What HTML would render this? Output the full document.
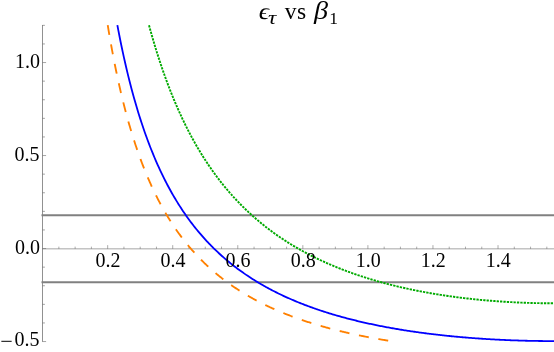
<!DOCTYPE html>
<html><head><meta charset="utf-8"><title>plot</title>
<style>html,body{margin:0;padding:0;background:#fff;}body{width:554px;height:352px;overflow:hidden;font-family:"Liberation Serif",serif;}</style>
</head><body>
<svg width="554" height="352" viewBox="0 0 554 352" style="display:block">
<rect width="554" height="352" fill="#fff"/>
<g stroke="#666" fill="none">
<line x1="42.5" y1="25.00" x2="42.5" y2="341.80" stroke-width="0.72"/>
<line x1="42.5" y1="248.85" x2="554" y2="248.85" stroke-width="0.6"/>
<line x1="58.87" y1="248.85" x2="58.87" y2="246.65" stroke-width="0.55"/>
<line x1="75.13" y1="248.85" x2="75.13" y2="246.65" stroke-width="0.55"/>
<line x1="91.4" y1="248.85" x2="91.4" y2="246.65" stroke-width="0.55"/>
<line x1="107.66" y1="248.85" x2="107.66" y2="245.15" stroke-width="0.55"/>
<line x1="123.93" y1="248.85" x2="123.93" y2="246.65" stroke-width="0.55"/>
<line x1="140.19" y1="248.85" x2="140.19" y2="246.65" stroke-width="0.55"/>
<line x1="156.46" y1="248.85" x2="156.46" y2="246.65" stroke-width="0.55"/>
<line x1="172.72" y1="248.85" x2="172.72" y2="245.15" stroke-width="0.55"/>
<line x1="188.99" y1="248.85" x2="188.99" y2="246.65" stroke-width="0.55"/>
<line x1="205.25" y1="248.85" x2="205.25" y2="246.65" stroke-width="0.55"/>
<line x1="221.52" y1="248.85" x2="221.52" y2="246.65" stroke-width="0.55"/>
<line x1="237.78" y1="248.85" x2="237.78" y2="245.15" stroke-width="0.55"/>
<line x1="254.05" y1="248.85" x2="254.05" y2="246.65" stroke-width="0.55"/>
<line x1="270.31" y1="248.85" x2="270.31" y2="246.65" stroke-width="0.55"/>
<line x1="286.58" y1="248.85" x2="286.58" y2="246.65" stroke-width="0.55"/>
<line x1="302.84" y1="248.85" x2="302.84" y2="245.15" stroke-width="0.55"/>
<line x1="319.11" y1="248.85" x2="319.11" y2="246.65" stroke-width="0.55"/>
<line x1="335.37" y1="248.85" x2="335.37" y2="246.65" stroke-width="0.55"/>
<line x1="351.64" y1="248.85" x2="351.64" y2="246.65" stroke-width="0.55"/>
<line x1="367.9" y1="248.85" x2="367.9" y2="245.15" stroke-width="0.55"/>
<line x1="384.17" y1="248.85" x2="384.17" y2="246.65" stroke-width="0.55"/>
<line x1="400.43" y1="248.85" x2="400.43" y2="246.65" stroke-width="0.55"/>
<line x1="416.7" y1="248.85" x2="416.7" y2="246.65" stroke-width="0.55"/>
<line x1="432.96" y1="248.85" x2="432.96" y2="245.15" stroke-width="0.55"/>
<line x1="449.23" y1="248.85" x2="449.23" y2="246.65" stroke-width="0.55"/>
<line x1="465.49" y1="248.85" x2="465.49" y2="246.65" stroke-width="0.55"/>
<line x1="481.76" y1="248.85" x2="481.76" y2="246.65" stroke-width="0.55"/>
<line x1="498.02" y1="248.85" x2="498.02" y2="245.15" stroke-width="0.55"/>
<line x1="514.29" y1="248.85" x2="514.29" y2="246.65" stroke-width="0.55"/>
<line x1="530.55" y1="248.85" x2="530.55" y2="246.65" stroke-width="0.55"/>
<line x1="546.82" y1="248.85" x2="546.82" y2="246.65" stroke-width="0.55"/>
<line x1="42.5" y1="341.55" x2="46.10" y2="341.55" stroke-width="0.6"/>
<line x1="42.5" y1="322.95" x2="44.90" y2="322.95" stroke-width="0.6"/>
<line x1="42.5" y1="304.35" x2="44.90" y2="304.35" stroke-width="0.6"/>
<line x1="42.5" y1="285.75" x2="44.90" y2="285.75" stroke-width="0.6"/>
<line x1="42.5" y1="267.15" x2="44.90" y2="267.15" stroke-width="0.6"/>
<line x1="42.5" y1="248.55" x2="46.10" y2="248.55" stroke-width="0.6"/>
<line x1="42.5" y1="229.95" x2="44.90" y2="229.95" stroke-width="0.6"/>
<line x1="42.5" y1="211.35" x2="44.90" y2="211.35" stroke-width="0.6"/>
<line x1="42.5" y1="192.75" x2="44.90" y2="192.75" stroke-width="0.6"/>
<line x1="42.5" y1="174.15" x2="44.90" y2="174.15" stroke-width="0.6"/>
<line x1="42.5" y1="155.55" x2="46.10" y2="155.55" stroke-width="0.6"/>
<line x1="42.5" y1="136.95" x2="44.90" y2="136.95" stroke-width="0.6"/>
<line x1="42.5" y1="118.35" x2="44.90" y2="118.35" stroke-width="0.6"/>
<line x1="42.5" y1="99.75" x2="44.90" y2="99.75" stroke-width="0.6"/>
<line x1="42.5" y1="81.15" x2="44.90" y2="81.15" stroke-width="0.6"/>
<line x1="42.5" y1="62.55" x2="46.10" y2="62.55" stroke-width="0.6"/>
<line x1="42.5" y1="43.95" x2="44.90" y2="43.95" stroke-width="0.6"/>
<line x1="42.5" y1="25.35" x2="44.90" y2="25.35" stroke-width="0.6"/>
</g>
<g stroke="#808080" stroke-width="1.9">
<line x1="41.5" y1="215.2" x2="554" y2="215.2"/>
<line x1="41.5" y1="282.2" x2="554" y2="282.2"/>
</g>
<path d="M107.74 25.20 L108.46 29.54 L109.17 33.78 L109.88 37.93 L110.59 42.00 L111.31 45.98 L112.02 49.88 L112.73 53.70 L113.44 57.44 L114.16 61.11 L114.87 64.70 L115.58 68.23 L116.30 71.69 L117.01 75.08 L117.72 78.41 L118.43 81.67 L119.15 84.87 L119.86 88.02 L120.57 91.10 L121.28 94.13 L122.00 97.11 L122.71 100.03 L123.42 102.90 L124.14 105.72 L124.85 108.49 L125.56 111.21 L126.27 113.89 L126.99 116.52 L127.70 119.10 L128.41 121.65 L129.12 124.15 L129.84 126.61 L130.55 129.03 L131.26 131.41 L131.98 133.75 L132.69 136.06 L133.40 138.33 L134.11 140.56 L134.83 142.76 L135.54 144.92 L136.25 147.05 L136.96 149.15 L137.68 151.22 L138.39 153.25 L139.10 155.26 L139.82 157.23 L140.53 159.18 L141.24 161.10 L141.95 162.99 L142.67 164.85 L143.38 166.68 L144.09 168.49 L144.80 170.28 L145.52 172.04 L146.23 173.77 L146.94 175.48 L147.66 177.17 L148.37 178.84 L149.08 180.48 L149.79 182.10 L150.51 183.69 L151.22 185.27 L151.93 186.83 L152.64 188.36 L153.36 189.88 L154.07 191.37 L154.78 192.85 L155.49 194.31 L156.21 195.74 L156.92 197.16 L157.63 198.57 L158.35 199.95 L159.06 201.32 L159.77 202.67 L160.48 204.00 L161.20 205.32 L161.91 206.62 L162.62 207.91 L163.33 209.18 L164.05 210.43 L164.76 211.67 L165.47 212.90 L166.19 214.11 L166.90 215.30 L167.61 216.49 L168.32 217.66 L169.04 218.81 L169.75 219.95 L170.46 221.08 L171.17 222.20 L171.89 223.30 L172.60 224.39 L173.31 225.47 L174.03 226.54 L174.74 227.59 L175.45 228.64 L176.16 229.67 L176.88 230.69 L177.59 231.70 L178.30 232.70 L179.01 233.69 L179.73 234.66 L180.44 235.63 L181.15 236.59 L181.87 237.53 L182.58 238.47 L183.29 239.40 L184.00 240.32 L184.72 241.22 L185.43 242.12 L186.14 243.01 L186.85 243.89 L187.57 244.76 L188.28 245.62 L188.99 246.48 L189.71 247.32 L190.42 248.16 L191.13 248.99 L191.84 249.81 L192.56 250.62 L193.27 251.42 L193.98 252.22 L194.69 253.01 L195.41 253.79 L196.12 254.56 L196.83 255.33 L197.55 256.08 L198.26 256.84 L198.97 257.58 L199.68 258.32 L200.40 259.05 L201.11 259.77 L201.82 260.49 L202.53 261.20 L203.25 261.90 L203.96 262.59 L204.67 263.29 L205.39 263.97 L206.10 264.65 L206.81 265.32 L207.52 265.98 L208.24 266.64 L208.95 267.30 L209.66 267.94 L210.37 268.58 L211.09 269.22 L211.80 269.85 L212.51 270.48 L213.23 271.09 L213.94 271.71 L214.65 272.32 L215.36 272.92 L216.08 273.52 L216.79 274.11 L217.50 274.70 L218.21 275.28 L218.93 275.86 L219.64 276.43 L220.35 277.00 L221.07 277.56 L221.78 278.12 L222.49 278.67 L223.20 279.22 L223.92 279.77 L224.63 280.31 L225.34 280.84 L226.05 281.37 L226.77 281.90 L227.48 282.42 L228.19 282.94 L228.91 283.45 L229.62 283.96 L230.33 284.47 L231.04 284.97 L231.76 285.46 L232.47 285.96 L233.18 286.45 L233.89 286.93 L234.61 287.41 L235.32 287.89 L236.03 288.36 L236.75 288.83 L237.46 289.30 L238.17 289.76 L238.88 290.22 L239.60 290.68 L240.31 291.13 L241.02 291.58 L241.73 292.02 L242.45 292.46 L243.16 292.90 L243.87 293.34 L244.59 293.77 L245.30 294.20 L246.01 294.62 L246.72 295.04 L247.44 295.46 L248.15 295.88 L248.86 296.29 L249.57 296.70 L250.29 297.10 L251.00 297.51 L251.71 297.91 L252.43 298.30 L253.14 298.70 L253.85 299.09 L254.56 299.48 L255.28 299.86 L255.99 300.24 L256.70 300.62 L257.41 301.00 L258.13 301.37 L258.84 301.74 L259.55 302.11 L260.26 302.48 L260.98 302.84 L261.69 303.20 L262.40 303.56 L263.12 303.92 L263.83 304.27 L264.54 304.62 L265.25 304.97 L265.97 305.31 L266.68 305.66 L267.39 306.00 L268.10 306.34 L268.82 306.67 L269.53 307.00 L270.24 307.34 L270.96 307.66 L271.67 307.99 L272.38 308.32 L273.09 308.64 L273.81 308.96 L274.52 309.27 L275.23 309.59 L275.94 309.90 L276.66 310.21 L277.37 310.52 L278.08 310.83 L278.80 311.13 L279.51 311.44 L280.22 311.74 L280.93 312.04 L281.65 312.33 L282.36 312.63 L283.07 312.92 L283.78 313.21 L284.50 313.50 L285.21 313.78 L285.92 314.07 L286.64 314.35 L287.35 314.63 L288.06 314.91 L288.77 315.19 L289.49 315.46 L290.20 315.74 L290.91 316.01 L291.62 316.28 L292.34 316.54 L293.05 316.81 L293.76 317.08 L294.48 317.34 L295.19 317.60 L295.90 317.86 L296.61 318.12 L297.33 318.37 L298.04 318.63 L298.75 318.88 L299.46 319.13 L300.18 319.38 L300.89 319.62 L301.60 319.87 L302.32 320.12 L303.03 320.36 L303.74 320.60 L304.45 320.84 L305.17 321.08 L305.88 321.31 L306.59 321.55 L307.30 321.78 L308.02 322.01 L308.73 322.24 L309.44 322.47 L310.16 322.70 L310.87 322.93 L311.58 323.15 L312.29 323.37 L313.01 323.60 L313.72 323.82 L314.43 324.04 L315.14 324.25 L315.86 324.47 L316.57 324.68 L317.28 324.90 L318.00 325.11 L318.71 325.32 L319.42 325.53 L320.13 325.74 L320.85 325.95 L321.56 326.15 L322.27 326.36 L322.98 326.56 L323.70 326.76 L324.41 326.96 L325.12 327.16 L325.84 327.36 L326.55 327.55 L327.26 327.75 L327.97 327.94 L328.69 328.14 L329.40 328.33 L330.11 328.52 L330.82 328.71 L331.54 328.90 L332.25 329.08 L332.96 329.27 L333.68 329.45 L334.39 329.64 L335.10 329.82 L335.81 330.00 L336.53 330.18 L337.24 330.36 L337.95 330.54 L338.66 330.72 L339.38 330.89 L340.09 331.07 L340.80 331.24 L341.52 331.41 L342.23 331.58 L342.94 331.75 L343.65 331.92 L344.37 332.09 L345.08 332.26 L345.79 332.43 L346.50 332.59 L347.22 332.76 L347.93 332.92 L348.64 333.08 L349.36 333.24 L350.07 333.40 L350.78 333.56 L351.49 333.72 L352.21 333.88 L352.92 334.03 L353.63 334.19 L354.34 334.34 L355.06 334.50 L355.77 334.65 L356.48 334.80 L357.20 334.95 L357.91 335.10 L358.62 335.25 L359.33 335.40 L360.05 335.54 L360.76 335.69 L361.47 335.83 L362.18 335.98 L362.90 336.12 L363.61 336.26 L364.32 336.41 L365.03 336.55 L365.75 336.69 L366.46 336.83 L367.17 336.96 L367.89 337.10 L368.60 337.24 L369.31 337.37 L370.02 337.51 L370.74 337.64 L371.45 337.77 L372.16 337.91 L372.87 338.04 L373.59 338.17 L374.30 338.30 L375.01 338.43 L375.73 338.55 L376.44 338.68 L377.15 338.81 L377.86 338.93 L378.58 339.06 L379.29 339.18 L380.00 339.31 L380.71 339.43 L381.43 339.55 L382.14 339.67 L382.85 339.79 L383.57 339.91 L384.28 340.03 L384.99 340.15 L385.70 340.27 L386.42 340.38 L387.13 340.50 L387.84 340.61 L388.55 340.73 L389.27 340.84 L389.98 340.96 L390.69 341.07 L391.41 341.18 L392.12 341.29 L392.83 341.40" fill="none" stroke="#ff8000" stroke-width="1.85" stroke-dasharray="10 9.74" stroke-dashoffset="0.2"/>
<path d="M149.01 25.20 L150.02 28.91 L151.03 32.55 L152.05 36.12 L153.06 39.63 L154.07 43.07 L155.08 46.45 L156.10 49.76 L157.11 53.02 L158.12 56.22 L159.14 59.36 L160.15 62.45 L161.16 65.48 L162.18 68.46 L163.19 71.39 L164.20 74.27 L165.21 77.10 L166.23 79.88 L167.24 82.62 L168.25 85.31 L169.27 87.96 L170.28 90.56 L171.29 93.13 L172.30 95.65 L173.32 98.13 L174.33 100.57 L175.34 102.97 L176.36 105.34 L177.37 107.67 L178.38 109.97 L179.39 112.22 L180.41 114.45 L181.42 116.64 L182.43 118.80 L183.45 120.93 L184.46 123.02 L185.47 125.09 L186.49 127.12 L187.50 129.13 L188.51 131.10 L189.52 133.05 L190.54 134.97 L191.55 136.86 L192.56 138.73 L193.58 140.57 L194.59 142.39 L195.60 144.18 L196.61 145.94 L197.63 147.68 L198.64 149.40 L199.65 151.10 L200.67 152.77 L201.68 154.42 L202.69 156.05 L203.71 157.65 L204.72 159.24 L205.73 160.80 L206.74 162.35 L207.76 163.87 L208.77 165.38 L209.78 166.87 L210.80 168.33 L211.81 169.78 L212.82 171.21 L213.83 172.63 L214.85 174.02 L215.86 175.40 L216.87 176.76 L217.89 178.10 L218.90 179.43 L219.91 180.74 L220.93 182.04 L221.94 183.32 L222.95 184.59 L223.96 185.84 L224.98 187.07 L225.99 188.29 L227.00 189.50 L228.02 190.69 L229.03 191.87 L230.04 193.04 L231.05 194.19 L232.07 195.33 L233.08 196.45 L234.09 197.57 L235.11 198.67 L236.12 199.75 L237.13 200.83 L238.14 201.89 L239.16 202.94 L240.17 203.98 L241.18 205.01 L242.20 206.03 L243.21 207.04 L244.22 208.03 L245.24 209.02 L246.25 209.99 L247.26 210.95 L248.27 211.91 L249.29 212.85 L250.30 213.78 L251.31 214.70 L252.33 215.62 L253.34 216.52 L254.35 217.41 L255.36 218.30 L256.38 219.17 L257.39 220.04 L258.40 220.90 L259.42 221.75 L260.43 222.59 L261.44 223.42 L262.46 224.24 L263.47 225.05 L264.48 225.86 L265.49 226.66 L266.51 227.45 L267.52 228.23 L268.53 229.00 L269.55 229.77 L270.56 230.53 L271.57 231.28 L272.58 232.02 L273.60 232.76 L274.61 233.49 L275.62 234.21 L276.64 234.92 L277.65 235.63 L278.66 236.33 L279.68 237.02 L280.69 237.71 L281.70 238.39 L282.71 239.07 L283.73 239.73 L284.74 240.40 L285.75 241.05 L286.77 241.70 L287.78 242.34 L288.79 242.98 L289.80 243.61 L290.82 244.23 L291.83 244.85 L292.84 245.46 L293.86 246.07 L294.87 246.67 L295.88 247.27 L296.89 247.86 L297.91 248.44 L298.92 249.02 L299.93 249.60 L300.95 250.16 L301.96 250.73 L302.97 251.29 L303.99 251.84 L305.00 252.39 L306.01 252.93 L307.02 253.47 L308.04 254.00 L309.05 254.53 L310.06 255.05 L311.08 255.57 L312.09 256.08 L313.10 256.59 L314.11 257.10 L315.13 257.60 L316.14 258.09 L317.15 258.58 L318.17 259.07 L319.18 259.55 L320.19 260.03 L321.21 260.50 L322.22 260.97 L323.23 261.44 L324.24 261.90 L325.26 262.36 L326.27 262.81 L327.28 263.26 L328.30 263.70 L329.31 264.15 L330.32 264.58 L331.33 265.02 L332.35 265.45 L333.36 265.87 L334.37 266.29 L335.39 266.71 L336.40 267.13 L337.41 267.54 L338.43 267.94 L339.44 268.35 L340.45 268.75 L341.46 269.14 L342.48 269.54 L343.49 269.93 L344.50 270.31 L345.52 270.70 L346.53 271.08 L347.54 271.45 L348.55 271.82 L349.57 272.19 L350.58 272.56 L351.59 272.92 L352.61 273.28 L353.62 273.64 L354.63 273.99 L355.65 274.35 L356.66 274.69 L357.67 275.04 L358.68 275.38 L359.70 275.72 L360.71 276.05 L361.72 276.39 L362.74 276.72 L363.75 277.04 L364.76 277.37 L365.77 277.69 L366.79 278.01 L367.80 278.32 L368.81 278.63 L369.83 278.94 L370.84 279.25 L371.85 279.56 L372.86 279.86 L373.88 280.16 L374.89 280.45 L375.90 280.75 L376.92 281.04 L377.93 281.33 L378.94 281.61 L379.96 281.90 L380.97 282.18 L381.98 282.46 L382.99 282.73 L384.01 283.01 L385.02 283.28 L386.03 283.55 L387.05 283.81 L388.06 284.08 L389.07 284.34 L390.08 284.60 L391.10 284.85 L392.11 285.11 L393.12 285.36 L394.14 285.61 L395.15 285.86 L396.16 286.10 L397.18 286.35 L398.19 286.59 L399.20 286.83 L400.21 287.06 L401.23 287.30 L402.24 287.53 L403.25 287.76 L404.27 287.99 L405.28 288.22 L406.29 288.44 L407.30 288.66 L408.32 288.88 L409.33 289.10 L410.34 289.31 L411.36 289.53 L412.37 289.74 L413.38 289.95 L414.40 290.15 L415.41 290.36 L416.42 290.56 L417.43 290.76 L418.45 290.96 L419.46 291.16 L420.47 291.36 L421.49 291.55 L422.50 291.74 L423.51 291.93 L424.52 292.12 L425.54 292.31 L426.55 292.49 L427.56 292.67 L428.58 292.85 L429.59 293.03 L430.60 293.21 L431.61 293.39 L432.63 293.56 L433.64 293.73 L434.65 293.90 L435.67 294.07 L436.68 294.23 L437.69 294.40 L438.71 294.56 L439.72 294.72 L440.73 294.88 L441.74 295.04 L442.76 295.19 L443.77 295.35 L444.78 295.50 L445.80 295.65 L446.81 295.80 L447.82 295.95 L448.83 296.09 L449.85 296.24 L450.86 296.38 L451.87 296.52 L452.89 296.66 L453.90 296.80 L454.91 296.94 L455.93 297.07 L456.94 297.20 L457.95 297.33 L458.96 297.46 L459.98 297.59 L460.99 297.72 L462.00 297.84 L463.02 297.97 L464.03 298.09 L465.04 298.21 L466.05 298.33 L467.07 298.45 L468.08 298.56 L469.09 298.68 L470.11 298.79 L471.12 298.90 L472.13 299.01 L473.15 299.12 L474.16 299.22 L475.17 299.33 L476.18 299.43 L477.20 299.54 L478.21 299.64 L479.22 299.74 L480.24 299.83 L481.25 299.93 L482.26 300.03 L483.27 300.12 L484.29 300.21 L485.30 300.30 L486.31 300.39 L487.33 300.48 L488.34 300.57 L489.35 300.65 L490.36 300.73 L491.38 300.82 L492.39 300.90 L493.40 300.98 L494.42 301.06 L495.43 301.13 L496.44 301.21 L497.46 301.28 L498.47 301.35 L499.48 301.43 L500.49 301.50 L501.51 301.56 L502.52 301.63 L503.53 301.70 L504.55 301.76 L505.56 301.82 L506.57 301.89 L507.58 301.95 L508.60 302.00 L509.61 302.06 L510.62 302.12 L511.64 302.17 L512.65 302.23 L513.66 302.28 L514.68 302.33 L515.69 302.38 L516.70 302.43 L517.71 302.48 L518.73 302.52 L519.74 302.57 L520.75 302.61 L521.77 302.65 L522.78 302.69 L523.79 302.73 L524.80 302.77 L525.82 302.81 L526.83 302.84 L527.84 302.87 L528.86 302.91 L529.87 302.94 L530.88 302.97 L531.90 303.00 L532.91 303.03 L533.92 303.05 L534.93 303.08 L535.95 303.10 L536.96 303.12 L537.97 303.14 L538.99 303.16 L540.00 303.18 L541.01 303.20 L542.02 303.22 L543.04 303.23 L544.05 303.24 L545.06 303.26 L546.08 303.27 L547.09 303.28 L548.10 303.28 L549.11 303.29 L550.13 303.30 L551.14 303.30 L552.15 303.30 L553.17 303.31 L554.18 303.31" fill="none" stroke="#00aa00" stroke-width="1.9" stroke-dasharray="2.3 1.08"/>
<path d="M117.36 25.20 L118.45 30.95 L119.55 36.54 L120.64 41.98 L121.73 47.26 L122.82 52.39 L123.91 57.39 L125.01 62.26 L126.10 67.00 L127.19 71.61 L128.28 76.11 L129.37 80.49 L130.47 84.76 L131.56 88.93 L132.65 93.00 L133.74 96.96 L134.83 100.84 L135.93 104.62 L137.02 108.31 L138.11 111.92 L139.20 115.44 L140.29 118.89 L141.39 122.26 L142.48 125.55 L143.57 128.77 L144.66 131.93 L145.75 135.01 L146.85 138.03 L147.94 140.98 L149.03 143.88 L150.12 146.71 L151.21 149.49 L152.31 152.21 L153.40 154.88 L154.49 157.49 L155.58 160.05 L156.67 162.56 L157.77 165.02 L158.86 167.44 L159.95 169.81 L161.04 172.14 L162.13 174.42 L163.23 176.66 L164.32 178.86 L165.41 181.02 L166.50 183.14 L167.60 185.22 L168.69 187.26 L169.78 189.27 L170.87 191.25 L171.96 193.19 L173.06 195.09 L174.15 196.97 L175.24 198.81 L176.33 200.62 L177.42 202.40 L178.52 204.16 L179.61 205.88 L180.70 207.57 L181.79 209.24 L182.88 210.88 L183.98 212.50 L185.07 214.09 L186.16 215.65 L187.25 217.19 L188.34 218.71 L189.44 220.20 L190.53 221.67 L191.62 223.11 L192.71 224.54 L193.80 225.94 L194.90 227.33 L195.99 228.69 L197.08 230.03 L198.17 231.35 L199.26 232.66 L200.36 233.94 L201.45 235.21 L202.54 236.46 L203.63 237.69 L204.72 238.90 L205.82 240.10 L206.91 241.28 L208.00 242.44 L209.09 243.59 L210.18 244.72 L211.28 245.83 L212.37 246.93 L213.46 248.02 L214.55 249.09 L215.65 250.15 L216.74 251.19 L217.83 252.22 L218.92 253.24 L220.01 254.24 L221.11 255.23 L222.20 256.21 L223.29 257.17 L224.38 258.12 L225.47 259.06 L226.57 259.99 L227.66 260.91 L228.75 261.81 L229.84 262.71 L230.93 263.59 L232.03 264.46 L233.12 265.32 L234.21 266.17 L235.30 267.01 L236.39 267.84 L237.49 268.66 L238.58 269.47 L239.67 270.27 L240.76 271.06 L241.85 271.84 L242.95 272.61 L244.04 273.38 L245.13 274.13 L246.22 274.87 L247.31 275.61 L248.41 276.34 L249.50 277.06 L250.59 277.77 L251.68 278.47 L252.77 279.17 L253.87 279.86 L254.96 280.54 L256.05 281.21 L257.14 281.87 L258.23 282.53 L259.33 283.18 L260.42 283.82 L261.51 284.46 L262.60 285.08 L263.70 285.71 L264.79 286.32 L265.88 286.93 L266.97 287.53 L268.06 288.12 L269.16 288.71 L270.25 289.29 L271.34 289.87 L272.43 290.44 L273.52 291.00 L274.62 291.56 L275.71 292.11 L276.80 292.66 L277.89 293.20 L278.98 293.73 L280.08 294.26 L281.17 294.79 L282.26 295.30 L283.35 295.82 L284.44 296.32 L285.54 296.83 L286.63 297.32 L287.72 297.81 L288.81 298.30 L289.90 298.78 L291.00 299.26 L292.09 299.73 L293.18 300.20 L294.27 300.66 L295.36 301.12 L296.46 301.57 L297.55 302.02 L298.64 302.46 L299.73 302.90 L300.82 303.34 L301.92 303.77 L303.01 304.20 L304.10 304.62 L305.19 305.04 L306.29 305.45 L307.38 305.86 L308.47 306.27 L309.56 306.67 L310.65 307.07 L311.75 307.46 L312.84 307.85 L313.93 308.24 L315.02 308.62 L316.11 309.00 L317.21 309.38 L318.30 309.75 L319.39 310.12 L320.48 310.48 L321.57 310.84 L322.67 311.20 L323.76 311.56 L324.85 311.91 L325.94 312.26 L327.03 312.60 L328.13 312.94 L329.22 313.28 L330.31 313.61 L331.40 313.94 L332.49 314.27 L333.59 314.60 L334.68 314.92 L335.77 315.24 L336.86 315.55 L337.95 315.87 L339.05 316.18 L340.14 316.48 L341.23 316.79 L342.32 317.09 L343.41 317.39 L344.51 317.68 L345.60 317.97 L346.69 318.26 L347.78 318.55 L348.87 318.84 L349.97 319.12 L351.06 319.40 L352.15 319.67 L353.24 319.95 L354.34 320.22 L355.43 320.49 L356.52 320.75 L357.61 321.02 L358.70 321.28 L359.80 321.54 L360.89 321.79 L361.98 322.05 L363.07 322.30 L364.16 322.55 L365.26 322.79 L366.35 323.04 L367.44 323.28 L368.53 323.52 L369.62 323.76 L370.72 323.99 L371.81 324.23 L372.90 324.46 L373.99 324.69 L375.08 324.91 L376.18 325.14 L377.27 325.36 L378.36 325.58 L379.45 325.80 L380.54 326.01 L381.64 326.23 L382.73 326.44 L383.82 326.65 L384.91 326.86 L386.00 327.06 L387.10 327.27 L388.19 327.47 L389.28 327.67 L390.37 327.86 L391.46 328.06 L392.56 328.25 L393.65 328.45 L394.74 328.64 L395.83 328.83 L396.92 329.01 L398.02 329.20 L399.11 329.38 L400.20 329.56 L401.29 329.74 L402.39 329.92 L403.48 330.09 L404.57 330.27 L405.66 330.44 L406.75 330.61 L407.85 330.78 L408.94 330.94 L410.03 331.11 L411.12 331.27 L412.21 331.44 L413.31 331.60 L414.40 331.75 L415.49 331.91 L416.58 332.07 L417.67 332.22 L418.77 332.37 L419.86 332.52 L420.95 332.67 L422.04 332.82 L423.13 332.97 L424.23 333.11 L425.32 333.25 L426.41 333.39 L427.50 333.53 L428.59 333.67 L429.69 333.81 L430.78 333.94 L431.87 334.08 L432.96 334.21 L434.05 334.34 L435.15 334.47 L436.24 334.60 L437.33 334.72 L438.42 334.85 L439.51 334.97 L440.61 335.09 L441.70 335.21 L442.79 335.33 L443.88 335.45 L444.97 335.57 L446.07 335.68 L447.16 335.80 L448.25 335.91 L449.34 336.02 L450.44 336.13 L451.53 336.24 L452.62 336.34 L453.71 336.45 L454.80 336.55 L455.90 336.66 L456.99 336.76 L458.08 336.86 L459.17 336.96 L460.26 337.06 L461.36 337.15 L462.45 337.25 L463.54 337.34 L464.63 337.43 L465.72 337.52 L466.82 337.61 L467.91 337.70 L469.00 337.79 L470.09 337.88 L471.18 337.96 L472.28 338.05 L473.37 338.13 L474.46 338.21 L475.55 338.29 L476.64 338.37 L477.74 338.45 L478.83 338.52 L479.92 338.60 L481.01 338.67 L482.10 338.75 L483.20 338.82 L484.29 338.89 L485.38 338.96 L486.47 339.03 L487.56 339.09 L488.66 339.16 L489.75 339.22 L490.84 339.29 L491.93 339.35 L493.02 339.41 L494.12 339.47 L495.21 339.53 L496.30 339.59 L497.39 339.64 L498.49 339.70 L499.58 339.75 L500.67 339.81 L501.76 339.86 L502.85 339.91 L503.95 339.96 L505.04 340.01 L506.13 340.06 L507.22 340.10 L508.31 340.15 L509.41 340.19 L510.50 340.24 L511.59 340.28 L512.68 340.32 L513.77 340.36 L514.87 340.40 L515.96 340.44 L517.05 340.47 L518.14 340.51 L519.23 340.54 L520.33 340.58 L521.42 340.61 L522.51 340.64 L523.60 340.67 L524.69 340.70 L525.79 340.73 L526.88 340.75 L527.97 340.78 L529.06 340.80 L530.15 340.83 L531.25 340.85 L532.34 340.87 L533.43 340.89 L534.52 340.91 L535.61 340.93 L536.71 340.95 L537.80 340.97 L538.89 340.98 L539.98 340.99 L541.08 341.01 L542.17 341.02 L543.26 341.03 L544.35 341.04 L545.44 341.05 L546.54 341.06 L547.63 341.06 L548.72 341.07 L549.81 341.08 L550.90 341.08 L552.00 341.08 L553.09 341.08 L554.18 341.08" fill="none" stroke="#0000ff" stroke-width="1.8"/>
<g font-family="'Liberation Serif', serif" font-size="20.8" fill="#000" opacity="0.999">
<text transform="translate(107.96 266.85) scale(0.962 1)" text-anchor="middle">0.2</text>
<text transform="translate(173.02 266.85) scale(0.962 1)" text-anchor="middle">0.4</text>
<text transform="translate(238.08 266.85) scale(0.962 1)" text-anchor="middle">0.6</text>
<text transform="translate(303.14 266.85) scale(0.962 1)" text-anchor="middle">0.8</text>
<text transform="translate(368.20 266.85) scale(0.962 1)" text-anchor="middle">1.0</text>
<text transform="translate(433.26 266.85) scale(0.962 1)" text-anchor="middle">1.2</text>
<text transform="translate(498.32 266.85) scale(0.962 1)" text-anchor="middle">1.4</text>
<text transform="translate(39.9 67.60) scale(0.962 1)" text-anchor="end">1.0</text>
<text transform="translate(39.6 160.60) scale(0.962 1)" text-anchor="end">0.5</text>
<text transform="translate(40.0 253.60) scale(0.962 1)" text-anchor="end">0.0</text>
<text transform="translate(39.6 346.00) scale(0.962 1)" text-anchor="end">0.5</text>
<text transform="translate(0.3 348.2) scale(1.064 1)">−</text>
<text transform="translate(257.7 18.7) skewX(-10) scale(1.15 1)" font-size="23">ϵ</text>
<text transform="translate(268.0 24.3) scale(1.21 1)" font-size="19.1" font-style="italic">τ</text>
<text x="284.8" y="18.8" font-size="23.5" letter-spacing="0.5">vs</text>
<text transform="translate(313.9 18.75) scale(1.15 1)" font-size="24.5" font-style="italic">β</text>
<text x="329.2" y="23.9" font-size="17.5">1</text>
</g>
</svg>
</body></html>
